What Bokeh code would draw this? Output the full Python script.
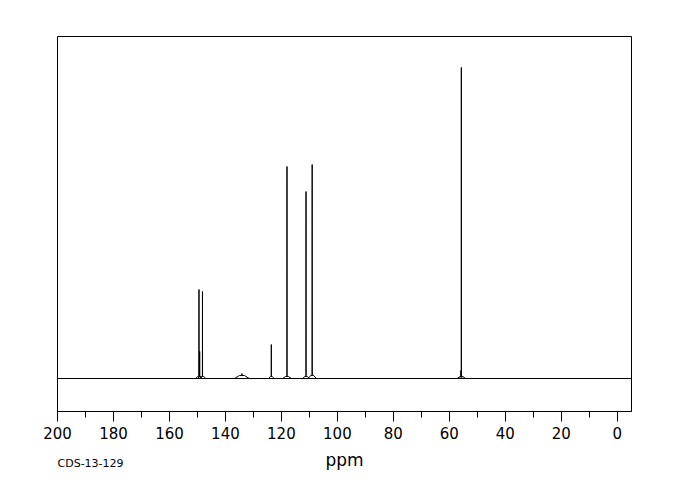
from bokeh.plotting import figure
from bokeh.models import Range1d, Label, FixedTicker
from bokeh.embed import file_html
from bokeh.resources import INLINE

# Peak table (ppm, height in arbitrary intensity units, base-hump height, half-width ppm)
peak_ppm = [149.45, 149.2, 148.2, 134.1, 123.6, 118.0, 111.2, 109.0, 55.7, 55.85]
peak_height = [89, 27, 87, 5, 34, 212, 187, 214, 311, 8]
peak_base = [2, 2, 2, 3, 2, 2, 2, 3, 2, 2]
peak_halfwidth = [1.2, 0.6, 1.2, 2.6, 1.0, 1.5, 1.2, 1.5, 1.5, 0.5]

x_ticks = [200, 180, 160, 140, 120, 100, 80, 60, 40, 20, 0]
x_start, x_end = 200, -5.1
y_start, y_end = -33, 342

p = figure(width=672, height=492, output_backend="svg", toolbar_location=None,
           x_range=Range1d(x_start, x_end), y_range=Range1d(y_start, y_end),
           y_axis_location=None,
           min_border_left=57, min_border_right=41, min_border_top=36, min_border_bottom=81)
p.grid.visible = False
p.outline_line_color = "black"
p.outline_line_width = 1
p.background_fill_color = "white"
p.border_fill_color = "white"

# baseline
p.line([x_start, x_end], [0, 0], line_color="black", line_width=1)

# peaks
xs, ys = [], []
for c, h, b, w in zip(peak_ppm, peak_height, peak_base, peak_halfwidth):
    xs.append([c + w, c + w * 0.35, c + 0.03, c, c - 0.03, c - w * 0.35, c - w])
    ys.append([0, b, b, h, b, b, 0])
p.multi_line(xs, ys, line_color="black", line_width=1)

ax = p.xaxis[0]
ax.ticker = FixedTicker(ticks=x_ticks, minor_ticks=list(range(0, 201, 10)))
ax.axis_line_color = "black"
ax.major_tick_out = 10
ax.major_tick_in = 0
ax.minor_tick_out = 6
ax.minor_tick_in = 0
ax.major_tick_line_color = "black"
ax.minor_tick_line_color = "black"
ax.major_label_text_font = "DejaVu Sans"
ax.major_label_text_font_size = "15px"
ax.major_label_text_color = "black"
ax.major_label_standoff = 5
ax.axis_label = "ppm"
ax.axis_label_text_font = "DejaVu Sans"
ax.axis_label_text_font_style = "normal"
ax.axis_label_text_font_size = "17px"
ax.axis_label_text_color = "black"
ax.axis_label_standoff = 8

p.add_layout(Label(x=0, y=22, x_units="screen", y_units="screen", text="CDS-13-129",
                   text_font="DejaVu Sans", text_font_size="11px", text_color="black",
                   text_baseline="middle", text_align="left"), "below")

open("out.html", "w").write(file_html(p, INLINE))
